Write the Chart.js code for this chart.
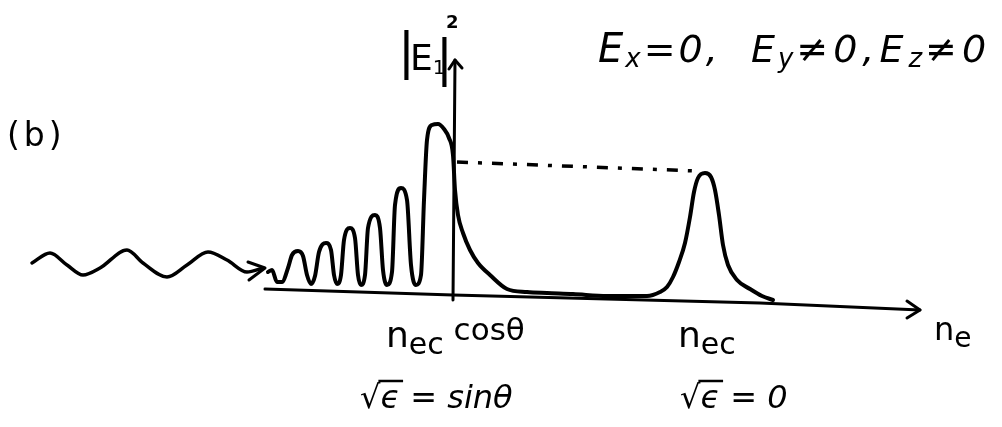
<!DOCTYPE html>
<html>
<head>
<meta charset="utf-8">
<script src="https://cdn.jsdelivr.net/npm/chart.js@4.4.1/dist/chart.umd.min.js"></script>
<style>
  html, body { margin: 0; padding: 0; background: #fff; }
  #wrap { width: 1002px; height: 427px; }
</style>
</head>
<body>
<div id="wrap"><canvas id="c" width="1002" height="427"></canvas></div>
<script>
// Position along the density axis (n_e, arbitrary units) and field intensity |E1|^2
const waveX = [3.2, 5.0, 6.7, 8.3, 10.0, 12.7, 14.3, 16.7, 18.7, 20.8, 22.7, 24.7, 26.3];
const waveY = [0.32, 0.42, 0.30, 0.20, 0.27, 0.45, 0.32, 0.18, 0.30, 0.43, 0.35, 0.23, 0.27];

const fieldX = [26.8, 27.2, 27.7, 28.2, 28.8, 29.2, 29.8, 30.3, 30.7, 31.1, 31.5, 31.9, 32.6, 33.1, 33.4,
  33.7, 34.1, 34.4, 35.0, 35.5, 35.8, 36.1, 36.5, 36.8, 37.5, 38.0, 38.3, 38.7, 39.2, 39.5, 40.1, 40.7,
  41.1, 41.6, 42.1, 42.4, 42.7, 43.2, 43.8, 44.4, 44.9, 45.3, 45.5, 45.8, 46.3, 47.0, 47.8, 49.0, 50.7,
  52.7, 54.7, 57.3, 60.7, 64.7, 66.0, 66.7, 67.3, 67.9, 68.5, 69.0, 69.4, 69.8, 70.5, 71.1, 71.5, 71.9,
  72.3, 72.8, 73.7, 75.0, 76.2, 77.3];
const fieldY = [0.23, 0.25, 0.13, 0.13, 0.27, 0.40, 0.44, 0.39, 0.20, 0.11, 0.19, 0.43, 0.52, 0.45, 0.20,
  0.11, 0.20, 0.55, 0.67, 0.57, 0.20, 0.10, 0.20, 0.67, 0.80, 0.67, 0.25, 0.10, 0.23, 0.90, 1.07, 0.95,
  0.30, 0.10, 0.20, 0.95, 1.55, 1.70, 1.71, 1.66, 1.57, 1.40, 1.05, 0.80, 0.62, 0.45, 0.32, 0.20, 0.06,
  0.03, 0.02, 0.01, -0.01, -0.01, 0.03, 0.08, 0.18, 0.33, 0.52, 0.78, 1.03, 1.17, 1.22, 1.18, 1.05, 0.80,
  0.50, 0.30, 0.15, 0.06, -0.01, -0.05];

// hand-drawn axes (slightly tilted baseline)
const baseX = [26.5, 45.3, 76.0, 92.0];
const baseY = [0.06, 0.00, -0.08, -0.15];
const vertX = [45.3, 45.5];
const vertY = [-0.05, 2.35];

// level of the second resonance carried back to the first one
const levelX = [45.7, 69.7];
const levelY = [1.33, 1.24];

// arrow heads
const waveHeadX = [24.8, 26.5, 24.9];
const waveHeadY = [0.33, 0.27, 0.15];
const baseHeadX = [90.7, 92.0, 90.7];
const baseHeadY = [-0.06, -0.15, -0.23];
const vertHeadX = [44.9, 45.5, 46.2];
const vertHeadY = [2.26, 2.35, 2.27];

const pts = (xs, ys) => xs.map((x, i) => ({ x: x, y: ys[i] }));
const ink = '#000';

function line(xs, ys, extra) {
  return Object.assign({
    data: pts(xs, ys),
    borderColor: ink,
    borderWidth: 3,
    pointRadius: 0,
    fill: false,
    tension: 0,
    borderCapStyle: 'round',
    borderJoinStyle: 'round'
  }, extra || {});
}

// text runs: each piece has its own font and baseline shift
const labels = [
  { x: 7, y: 146, runs: [{ t: '(b)', f: '33px "DejaVu Sans"', ls: '4px' }] },
  { x: 398, y: 68, runs: [{ t: '|', f: '50px "DejaVu Sans"' }] },
  { x: 410, y: 70, runs: [{ t: 'E', f: '36px "DejaVu Sans"' }, { t: '1', f: '20px "DejaVu Sans"', dy: 4 }] },
  { x: 436, y: 75, runs: [{ t: '|', f: '50px "DejaVu Sans"' }] },
  { x: 446, y: 28, runs: [{ t: '2', f: 'bold 18px "DejaVu Sans"' }] },
  { x: 598, y: 62, runs: [
      { t: 'E', f: 'italic 40px "DejaVu Sans"', ls: '2px' }, { t: 'x', f: 'italic 26px "DejaVu Sans"', dy: 5, ls: '3px' },
      { t: '=0,  E', f: 'italic 38px "DejaVu Sans"', ls: '3px' }, { t: 'y', f: 'italic 26px "DejaVu Sans"', dy: 5, ls: '3px' },
      { t: '≠0,E', f: 'italic 38px "DejaVu Sans"', ls: '5px' }, { t: 'z', f: 'italic 26px "DejaVu Sans"', dy: 5, ls: '3px' },
      { t: '≠0', f: 'italic 38px "DejaVu Sans"', ls: '5px' }] },
  { x: 386, y: 347, runs: [
      { t: 'n', f: '36px "DejaVu Sans"' }, { t: 'ec', f: '30px "DejaVu Sans"', dy: 7 },
      { t: ' cosθ', f: '31px "DejaVu Sans"', dy: -7 }] },
  { x: 360, y: 408, sqrt: true, runs: [{ t: '√ϵ = sinθ', f: 'italic 32px "DejaVu Sans"' }] },
  { x: 678, y: 347, runs: [{ t: 'n', f: '36px "DejaVu Sans"' }, { t: 'ec', f: '30px "DejaVu Sans"', dy: 7 }] },
  { x: 680, y: 408, sqrt: true, runs: [{ t: '√ϵ = 0', f: 'italic 32px "DejaVu Sans"' }] },
  { x: 934, y: 340, runs: [{ t: 'n', f: '32px "DejaVu Sans"' }, { t: 'e', f: '28px "DejaVu Sans"', dy: 7 }] }
];

const sketchText = {
  id: 'sketchText',
  afterDraw(chart) {
    const ctx = chart.ctx;
    ctx.save();
    ctx.fillStyle = ink;
    ctx.strokeStyle = ink;
    ctx.textBaseline = 'alphabetic';
    labels.forEach(l => {
      let x = l.x;
      l.runs.forEach(r => {
        ctx.font = r.f;
        ctx.letterSpacing = r.ls || '0px';
        ctx.fillText(r.t, x, l.y + (r.dy || 0));
        if (l.sqrt) {
          // vinculum over the epsilon under the root sign
          const wRoot = ctx.measureText('√').width;
          const wEps = ctx.measureText('ϵ').width;
          ctx.lineWidth = 2.5;
          ctx.beginPath();
          ctx.moveTo(x + wRoot - 2, l.y - 27);
          ctx.lineTo(x + wRoot + wEps + 3, l.y - 27);
          ctx.stroke();
        }
        x += ctx.measureText(r.t).width;
      });
    });
    ctx.restore();
  }
};

new Chart(document.getElementById('c'), {
  type: 'line',
  data: {
    datasets: [
      line(waveX, waveY, { cubicInterpolationMode: 'monotone', borderWidth: 3.5 }),
      line(waveHeadX, waveHeadY),
      line(fieldX, fieldY, { cubicInterpolationMode: 'monotone', borderWidth: 4 }),
      line(baseX, baseY),
      line(baseHeadX, baseHeadY),
      line(vertX, vertY),
      line(vertHeadX, vertHeadY),
      line(levelX, levelY, { borderDash: [11, 10, 4, 10], borderWidth: 3.5, borderCapStyle: 'butt' })
    ]
  },
  options: {
    responsive: false,
    animation: false,
    devicePixelRatio: 1,
    layout: { padding: 0 },
    scales: {
      x: { type: 'linear', min: 0, max: 100.2, display: false },
      y: { type: 'linear', min: -1.32, max: 2.95, display: false }
    },
    plugins: { legend: { display: false }, tooltip: { enabled: false } }
  },
  plugins: [sketchText]
});
</script>
</body>
</html>
